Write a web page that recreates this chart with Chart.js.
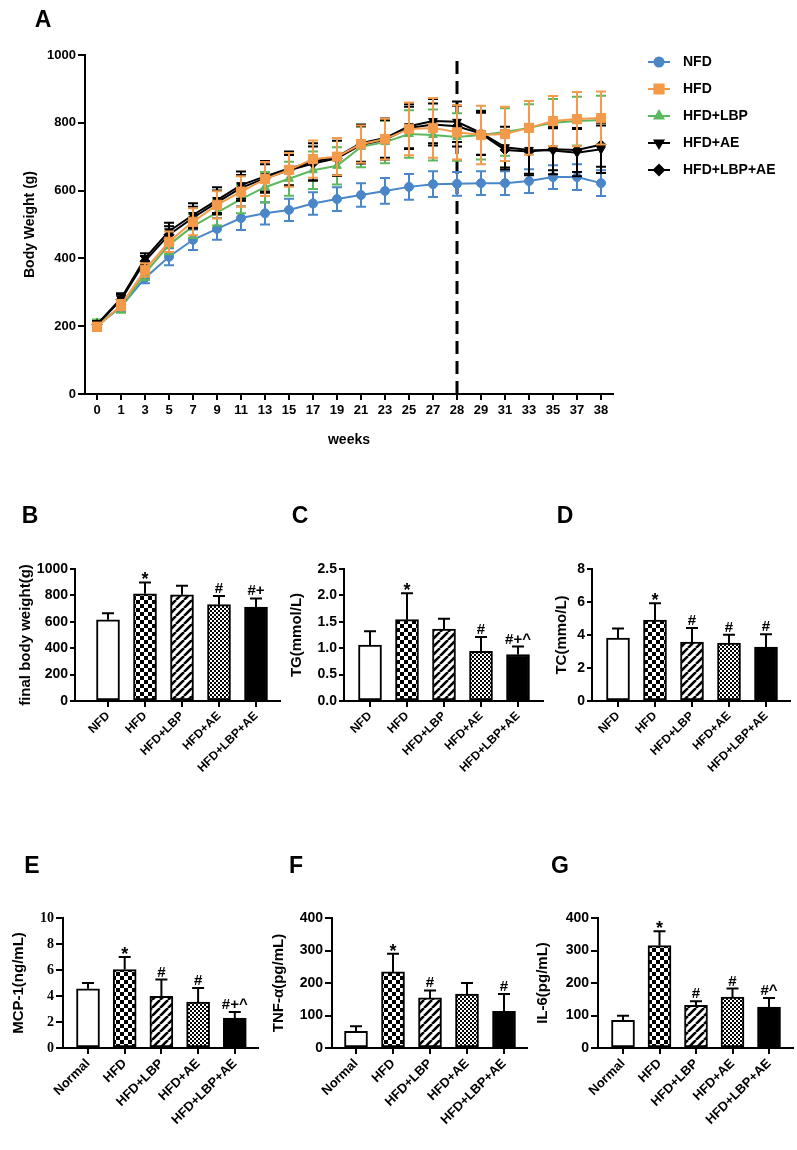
<!DOCTYPE html>
<html><head><meta charset="utf-8">
<script src="https://cdn.jsdelivr.net/npm/chart.js@4.4.1/dist/chart.umd.min.js"></script>
<style>
html,body{margin:0;padding:0;background:#fff;}
#wrap{position:relative;width:797px;height:1150px;overflow:hidden;background:#fff;}
canvas{position:absolute;left:0;top:0;pointer-events:none;}
.lab{position:absolute;font:bold 23px "Liberation Sans",Arial,sans-serif;color:#000;line-height:1;transform:translate(-50%,-50%);}
</style></head><body>
<div id="wrap">
<canvas id="cA" width="797" height="1150"></canvas>
<canvas id="cB" width="797" height="1150"></canvas>
<canvas id="cC" width="797" height="1150"></canvas>
<canvas id="cD" width="797" height="1150"></canvas>
<canvas id="cE" width="797" height="1150"></canvas>
<canvas id="cF" width="797" height="1150"></canvas>
<canvas id="cG" width="797" height="1150"></canvas>
<div class="lab" style="left:43px;top:19px">A</div>
<div class="lab" style="left:30px;top:515px">B</div>
<div class="lab" style="left:300px;top:515px">C</div>
<div class="lab" style="left:565px;top:515px">D</div>
<div class="lab" style="left:32px;top:865px">E</div>
<div class="lab" style="left:296px;top:865px">F</div>
<div class="lab" style="left:560px;top:865px">G</div>
</div>
<script>
// ---------- DATA ----------
const weeks = ['0','1','3','5','7','9','11','13','15','17','19','21','23','25','27','28','29','31','33','35','37','38'];
const dividerWeek = '28';
const seriesNames = ['NFD','HFD','HFD+LBP','HFD+AE','HFD+LBP+AE'];
const nfdMean   = [200,257,342,405,455,487,519,533,543,562,575,587,599,611,619,620,622,622,628,640,640,622];
const nfdSD     = [10,12,15,25,30,32,35,33,33,33,35,35,38,38,38,35,35,35,35,35,38,38];
const hfdMean   = [198,262,366,449,508,558,597,634,661,693,700,737,752,782,785,772,764,767,785,805,811,814];
const hfdSD     = [12,15,20,30,40,40,45,50,50,55,55,55,60,78,88,80,86,80,79,74,80,78];
const lbpMean   = [210,255,356,440,495,535,575,610,635,660,673,729,743,767,764,758,764,773,785,800,805,808];
const lbpSD     = [10,15,20,28,35,38,42,45,50,55,55,60,62,70,75,70,72,70,70,70,72,72];
const aeMean    = [205,282,400,480,528,572,616,642,665,685,700,740,755,790,805,803,770,728,720,718,712,722];
const aeSD      = [10,15,15,25,35,38,40,45,50,55,55,55,58,65,65,60,65,60,75,70,70,70];
const lbpaeMean = [205,278,392,470,520,565,608,636,660,680,695,735,750,785,795,790,768,720,715,722,720,735];
const lbpaeSD   = [10,15,15,25,32,35,38,42,45,50,52,55,58,62,62,60,62,58,65,62,65,65];
const yTicksA   = [0,200,400,600,800,1000];

const groupsB = ['NFD','HFD','HFD+LBP','HFD+AE','HFD+LBP+AE'];
const groupsE = ['Normal','HFD','HFD+LBP','HFD+AE','HFD+LBP+AE'];

const weightMean = [615,812,805,730,712];
const weightSD   = [50,86,68,65,65];
const weightMarks= ['','*','','#','#+'];
const ticksB     = [0,200,400,600,800,1000];

const tgMean  = [1.06,1.54,1.36,0.94,0.88];
const tgSD    = [0.26,0.50,0.20,0.27,0.15];
const tgMarks = ['','*','','#','#+^'];
const ticksC  = [0,0.5,1.0,1.5,2.0,2.5];

const tcMean  = [3.82,4.90,3.57,3.51,3.27];
const tcSD    = [0.57,1.02,0.86,0.51,0.77];
const tcMarks = ['','*','#','#','#'];
const ticksD  = [0,2,4,6,8];

const mcpMean  = [4.56,6.03,3.97,3.54,2.31];
const mcpSD    = [0.44,0.97,1.29,1.08,0.46];
const mcpMarks = ['','*','#','#','#+^'];
const ticksE   = [0,2,4,6,8,10];

const tnfMean  = [51,234,154,166,113];
const tnfSD    = [16,56,23,34,53];
const tnfMarks = ['','*','#','','#'];
const ticksF   = [0,100,200,300,400];

const il6Mean  = [85,315,131,157,126];
const il6SD    = [14,44,13,26,28];
const il6Marks = ['','*','#','#','#^'];
const ticksG   = [0,100,200,300,400];

// ---------- STYLES / LAYOUT ----------
const FONT = '"Liberation Sans", Arial, sans-serif';
Chart.defaults.font.family = FONT;
Chart.defaults.font.weight = 'bold';
Chart.defaults.color = '#000';
const W = 797, H = 1150;

const lineStyles = [
  {color:'#4a86c8', pointStyle:'circle',   r:4.5, rot:0,   order:4},
  {color:'#f49a4b', pointStyle:'rect',     r:6.5, rot:0,   order:0},
  {color:'#5cb85c', pointStyle:'triangle', r:5,   rot:0,   order:3},
  {color:'#000000', pointStyle:'triangle', r:5,   rot:180, order:2},
  {color:'#000000', pointStyle:'rectRot',  r:5,   rot:0,   order:1}
];
const layoutA = {axisX:85, right:613, top:55, bottom:394, xAxisH:60, titleX:30,
                 legend:{x1:648, x2:670, tx:683, y0:62, dy:27, font:14}};

function pattern(kind){
  const c = document.createElement('canvas'); const x = c.getContext('2d');
  if (kind === 'check'){ c.width=c.height=8; x.fillStyle='#fff'; x.fillRect(0,0,8,8); x.fillStyle='#000'; x.fillRect(0,0,4,4); x.fillRect(4,4,4,4); }
  else if (kind === 'fine'){ c.width=c.height=4; x.fillStyle='#fff'; x.fillRect(0,0,4,4); x.fillStyle='#000'; x.fillRect(0,0,2,2); x.fillRect(2,2,2,2); }
  else if (kind === 'stripe'){ c.width=c.height=8; x.fillStyle='#fff'; x.fillRect(0,0,8,8); x.strokeStyle='#000'; x.lineWidth=2.6;
    for (const o of [-8,0,8]){ x.beginPath(); x.moveTo(o,8); x.lineTo(o+8,0); x.stroke(); } }
  return x.createPattern(c,'repeat');
}
const barFills = ['#ffffff', pattern('check'), pattern('stripe'), pattern('fine'), '#000000'];

// ---------- PLUGINS ----------
function valAt(ds,i){ const d = ds.data[i]; return (d !== null && typeof d === 'object') ? d.y : d; }
function drawErrors(chart, index, meta){
  const ds = chart.data.datasets[index];
  if (!ds.errors) return;
  const ctx = chart.ctx, ys = chart.scales.y;
  ctx.save();
  ctx.strokeStyle = ds.errColor || ds.borderColor; ctx.lineWidth = 2;
  meta.data.forEach((el,i)=>{
    const m = valAt(ds,i), e = ds.errors[i];
    const yTop = ys.getPixelForValue(m+e);
    const yBot = ds.errMode === 'both' ? ys.getPixelForValue(m-e) : ys.getPixelForValue(m);
    const cw = ds.capHalf;
    ctx.beginPath();
    ctx.moveTo(el.x, yBot); ctx.lineTo(el.x, yTop);
    ctx.moveTo(el.x-cw, yTop); ctx.lineTo(el.x+cw, yTop);
    if (ds.errMode === 'both'){ ctx.moveTo(el.x-cw, yBot); ctx.lineTo(el.x+cw, yBot); }
    ctx.stroke();
    if (ds.marks && ds.marks[i]){
      const t = ds.marks[i];
      ctx.fillStyle = '#000'; ctx.textAlign = 'center'; ctx.textBaseline = 'alphabetic';
      if (t[0] === '*'){ ctx.font = 'bold 18px ' + FONT; ctx.fillText(t, el.x, yTop + 3); }
      else { ctx.font = 'bold 15px ' + FONT; ctx.fillText(t, el.x, yTop - 3); }
    }
  });
  ctx.restore();
}
const errPlugin = {
  id:'errPlugin',
  beforeDatasetDraw(chart,args){ const ds = chart.data.datasets[args.index]; if (ds.errMode === 'both') drawErrors(chart,args.index,args.meta); },
  afterDatasetDraw(chart,args){ const ds = chart.data.datasets[args.index]; if (ds.errMode === 'up') drawErrors(chart,args.index,args.meta); }
};
const legendPlugin = {
  id:'customLegend',
  afterDraw(chart){
    const ctx = chart.ctx, L = layoutA.legend;
    ctx.save();
    seriesNames.forEach((name,i)=>{
      const st = lineStyles[i], y = L.y0 + i*L.dy;
      ctx.strokeStyle = st.color; ctx.fillStyle = st.color; ctx.lineWidth = 2;
      ctx.beginPath(); ctx.moveTo(L.x1,y); ctx.lineTo(L.x2,y); ctx.stroke();
      Chart.helpers.drawPoint(ctx, {pointStyle:st.pointStyle, rotation:st.rot, radius:st.r, borderWidth:1}, (L.x1+L.x2)/2, y);
      ctx.fillStyle = '#000'; ctx.font = 'bold ' + L.font + 'px ' + FONT; ctx.textAlign='left'; ctx.textBaseline='middle';
      ctx.fillText(name, L.tx, y);
    });
    ctx.restore();
  }
};

// ---------- PANEL A ----------
(function(){
  const means = [nfdMean,hfdMean,lbpMean,aeMean,lbpaeMean];
  const sds = [nfdSD,hfdSD,lbpSD,aeSD,lbpaeSD];
  const datasets = seriesNames.map((n,i)=>{
    const st = lineStyles[i];
    return {label:n, data:means[i], errors:sds[i], errMode:'both', capHalf:5,
      borderColor:st.color, backgroundColor:st.color, pointBackgroundColor:st.color, pointBorderColor:st.color,
      pointStyle:st.pointStyle, pointRadius:st.r, pointRotation:st.rot, pointBorderWidth:1,
      borderWidth:2, tension:0, order:st.order};
  });
  datasets.push({label:'divider', data:[{x:dividerWeek,y:yTicksA[0]},{x:dividerWeek,y:yTicksA[yTicksA.length-1]}],
    borderColor:'#000', borderWidth:3, borderDash:[13,7], pointRadius:0, order:5, clip:false});
  new Chart(document.getElementById('cA'), {
    type:'line',
    data:{labels:weeks, datasets},
    options:{
      responsive:false, animation:false, devicePixelRatio:1,
      layout:{padding:{left:0, top:layoutA.top, right:W-layoutA.right, bottom:H-layoutA.bottom-layoutA.xAxisH}},
      plugins:{legend:{display:false}, tooltip:{enabled:false}},
      scales:{
        x:{type:'category', offset:true,
          grid:{drawOnChartArea:false, color:'#000', lineWidth:2, tickLength:6},
          border:{color:'#000', width:2},
          ticks:{font:{size:13,weight:'bold'}, color:'#000', padding:3, autoSkip:false, maxRotation:0, minRotation:0},
          title:{display:true, text:'weeks', font:{size:14,weight:'bold'}, color:'#000', padding:{top:4,bottom:5}},
          afterFit:s=>{s.height = layoutA.xAxisH;}},
        y:{min:yTicksA[0], max:yTicksA[yTicksA.length-1],
          afterBuildTicks:s=>{s.ticks = yTicksA.map(v=>({value:v}));},
          grid:{drawOnChartArea:false, color:'#000', lineWidth:2, tickLength:7},
          border:{color:'#000', width:2},
          ticks:{font:{size:13,weight:'bold'}, color:'#000', padding:2, callback:(v)=>String(v)},
          title:{display:true, text:'Body Weight (g)', font:{size:14,weight:'bold'}, color:'#000', padding:{top:layoutA.titleX-8.4,bottom:0}},
          afterFit:s=>{s.width = layoutA.axisX;}}
      }
    },
    plugins:[errPlugin, legendPlugin]
  });
})();

// ---------- BAR PANELS ----------
function barPanel(id, cats, mean, sd, marks, ticks, title, L, opt){
  opt = opt || {};
  const n = cats.length;
  const xmin = 1 - (L.firstX - L.axisX)/L.step;
  const xmax = n + (L.right - (L.firstX + (n-1)*L.step))/L.step;
  const xAxisH = 100;
  const tickFont = {size:14, weight:'bold', family: opt.yFamily || FONT};
  new Chart(document.getElementById(id), {
    type:'bar',
    data:{datasets:[{data:mean.map((v,i)=>({x:i+1,y:v})), errors:sd, marks:marks, errMode:'up', capHalf:6, errColor:'#000',
      backgroundColor:barFills, borderColor:'#000', borderWidth:2, barThickness:23, borderSkipped:false}]},
    options:{
      responsive:false, animation:false, devicePixelRatio:1,
      layout:{padding:{left:L.left, top:L.top, right:W-L.right, bottom:Math.max(0, H-L.bottom-xAxisH)}},
      plugins:{legend:{display:false}, tooltip:{enabled:false}},
      scales:{
        x:{type:'linear', min:xmin, max:xmax, offset:false,
          afterBuildTicks:s=>{s.ticks = cats.map((c,i)=>({value:i+1}));},
          grid:{offset:false, drawOnChartArea:false, color:'#000', lineWidth:2, tickLength:6},
          border:{color:'#000', width:2},
          ticks:{callback:(v)=>cats[Math.round(v)-1], autoSkip:false, minRotation:45, maxRotation:45,
                 font:{size:L.labelSize, weight:'bold'}, color:'#000', padding:2},
          afterFit:s=>{s.height = Math.min(xAxisH, H-L.bottom);}},
        y:{min:ticks[0], max:ticks[ticks.length-1],
          afterBuildTicks:s=>{s.ticks = ticks.map(v=>({value:v}));},
          grid:{drawOnChartArea:false, color:'#000', lineWidth:2, tickLength:L.tickLen},
          border:{color:'#000', width:2},
          ticks:{font:tickFont, color:'#000', padding:2, callback:(v)=> opt.decimals ? Number(v).toFixed(opt.decimals) : String(v)},
          title:{display:true, text:title, font:{size:15,weight:'bold'}, color:'#000', padding:{top:L.titleX-L.left-9,bottom:0}},
          afterFit:s=>{s.width = L.axisX - L.left;}}
      }
    },
    plugins:[errPlugin]
  });
}

const row1 = {top:569, bottom:701, tickLen:5, labelSize:12};
const row2 = {top:918, bottom:1048, tickLen:7, labelSize:13};
barPanel('cB', groupsB, weightMean, weightSD, weightMarks, ticksB, 'final body weight(g)',
  Object.assign({left:0,   axisX:75,  firstX:108, step:37,   right:280, titleX:26}, row1));
barPanel('cC', groupsB, tgMean, tgSD, tgMarks, ticksC, 'TG(mmol/L)',
  Object.assign({left:282, axisX:344, firstX:370, step:37,   right:543, titleX:297}, row1), {decimals:1});
barPanel('cD', groupsB, tcMean, tcSD, tcMarks, ticksD, 'TC(mmo/L)',
  Object.assign({left:545, axisX:592, firstX:618, step:37,   right:790, titleX:562}, row1));
barPanel('cE', groupsE, mcpMean, mcpSD, mcpMarks, ticksE, 'MCP-1(ng/mL)',
  Object.assign({left:0,   axisX:63,  firstX:88,  step:36.7, right:258, titleX:19}, row2), {yFamily:'"Liberation Serif", "Times New Roman", serif'});
barPanel('cF', groupsE, tnfMean, tnfSD, tnfMarks, ticksF, 'TNF-α(pg/mL)',
  Object.assign({left:262, axisX:332, firstX:356, step:37,   right:527, titleX:279}, row2));
barPanel('cG', groupsE, il6Mean, il6SD, il6Marks, ticksG, 'IL-6(pg/mL)',
  Object.assign({left:528, axisX:598, firstX:623, step:36.5, right:793, titleX:543}, row2));
</script>
</body></html>
